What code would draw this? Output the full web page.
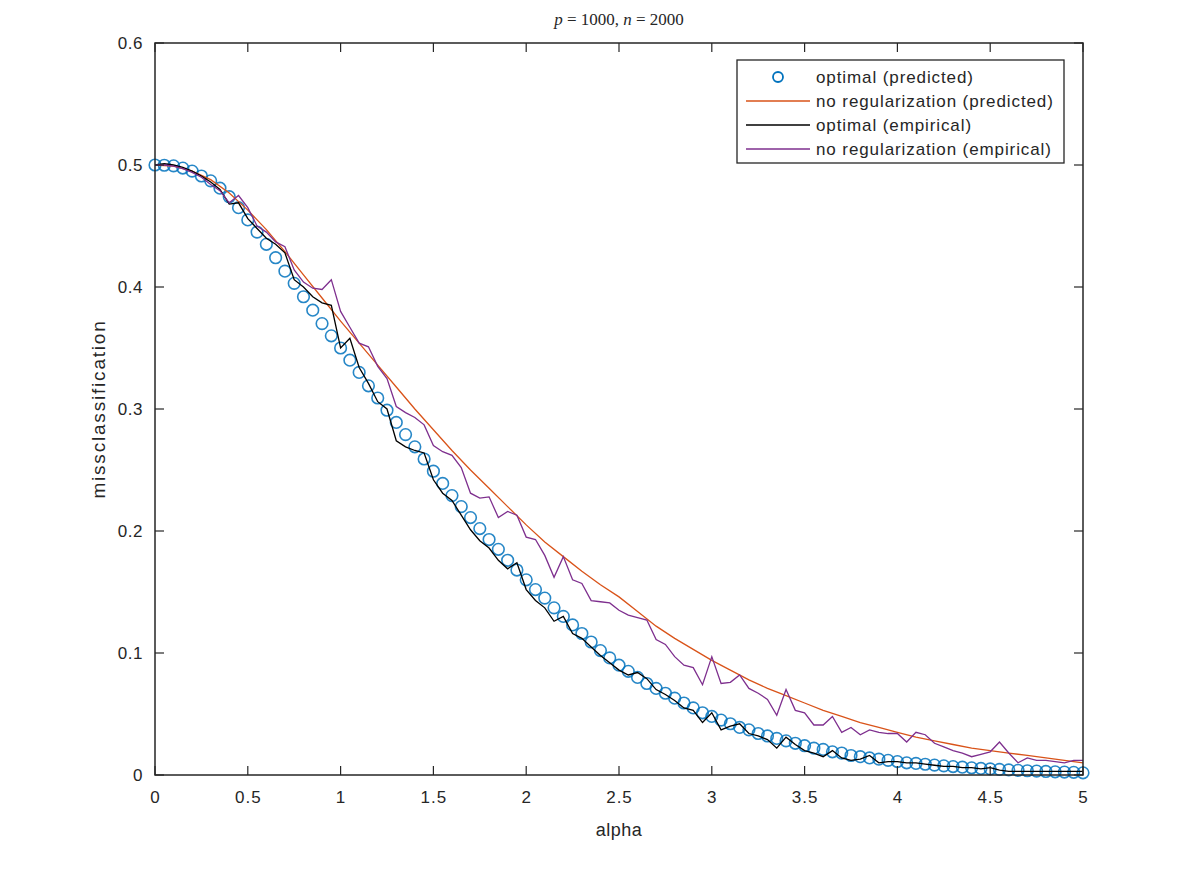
<!DOCTYPE html>
<html>
<head>
<meta charset="utf-8">
<script src="https://cdn.jsdelivr.net/npm/d3@7"></script>
<style>
  body { margin: 0; background: #fff; }
  text { font-family: "Liberation Sans", Arial, sans-serif; fill: #262626; }
</style>
</head>
<body>
<div id="chart"></div>
<script>
// Data (alpha step 0.05 for markers / empirical, 0.1 for predicted line)
const alphaFine = d3.range(0, 101).map((i) => i * 0.05);
const alphaCoarse = d3.range(0, 51).map((i) => i * 0.1);

const optimalPredicted = [
  0.500, 0.4998, 0.4993, 0.4975, 0.495, 0.491, 0.487, 0.481, 0.474, 0.465,
  0.455, 0.445, 0.435, 0.424, 0.413, 0.403, 0.392, 0.381, 0.370, 0.360,
  0.350, 0.340, 0.330, 0.319, 0.309, 0.299, 0.289, 0.279, 0.269, 0.259,
  0.249, 0.239, 0.229, 0.220, 0.211, 0.202, 0.193, 0.185, 0.176, 0.168,
  0.160, 0.152, 0.145, 0.137, 0.130, 0.123, 0.116, 0.109, 0.102, 0.096,
  0.090, 0.085, 0.080, 0.075, 0.071, 0.067, 0.063, 0.059, 0.055, 0.051,
  0.048, 0.045, 0.042, 0.039, 0.037, 0.034, 0.032, 0.030, 0.028, 0.026,
  0.024, 0.022, 0.021, 0.019, 0.018, 0.016, 0.015, 0.014, 0.013, 0.012,
  0.011, 0.010, 0.0095, 0.0088, 0.0081, 0.0075, 0.0069, 0.0064, 0.0059, 0.0054,
  0.0050, 0.0046, 0.0042, 0.0038, 0.0035, 0.0032, 0.0029, 0.0026, 0.0024, 0.0022,
  0.0018,
];

const noRegPredicted = [
  0.500, 0.499, 0.495, 0.488, 0.477, 0.463, 0.447, 0.429, 0.410, 0.391,
  0.372, 0.354, 0.336, 0.318, 0.300, 0.283, 0.266, 0.250, 0.235, 0.220,
  0.205, 0.191, 0.179, 0.167, 0.156, 0.146, 0.134, 0.122, 0.112, 0.103,
  0.094, 0.086, 0.078, 0.071, 0.065, 0.059, 0.053, 0.048, 0.043, 0.039,
  0.035, 0.031, 0.028, 0.025, 0.022, 0.020, 0.018, 0.016, 0.014, 0.012,
  0.010,
];

const optimalEmpirical = [
  0.500, 0.501, 0.500, 0.498, 0.495, 0.491, 0.486, 0.480, 0.468, 0.469,
  0.456, 0.448, 0.440, 0.435, 0.428, 0.406, 0.400, 0.392, 0.387, 0.385,
  0.350, 0.358, 0.334, 0.321, 0.306, 0.300, 0.274, 0.269, 0.266, 0.264,
  0.242, 0.231, 0.225, 0.213, 0.201, 0.192, 0.186, 0.176, 0.169, 0.174,
  0.152, 0.143, 0.137, 0.126, 0.130, 0.116, 0.112, 0.105, 0.098, 0.092,
  0.086, 0.082, 0.084, 0.079, 0.070, 0.066, 0.061, 0.055, 0.053, 0.043,
  0.051, 0.037, 0.040, 0.042, 0.034, 0.032, 0.029, 0.022, 0.031, 0.025,
  0.020, 0.018, 0.015, 0.020, 0.014, 0.012, 0.013, 0.016, 0.010, 0.011,
  0.011, 0.010, 0.010, 0.009, 0.008, 0.007, 0.007, 0.006, 0.006, 0.005,
  0.006, 0.004, 0.003, 0.003, 0.003, 0.003, 0.003, 0.003, 0.003, 0.003,
  0.003,
];

const noRegEmpirical = [
  0.500, 0.500, 0.499, 0.497, 0.494, 0.490, 0.484, 0.479, 0.469, 0.475,
  0.465, 0.450, 0.445, 0.437, 0.433, 0.414, 0.404, 0.399, 0.398, 0.406,
  0.380, 0.367, 0.354, 0.351, 0.335, 0.325, 0.302, 0.297, 0.293, 0.287,
  0.270, 0.265, 0.262, 0.252, 0.231, 0.227, 0.228, 0.211, 0.216, 0.213,
  0.195, 0.193, 0.180, 0.162, 0.179, 0.160, 0.157, 0.143, 0.142, 0.141,
  0.135, 0.131, 0.129, 0.127, 0.111, 0.107, 0.097, 0.090, 0.088, 0.074,
  0.097, 0.075, 0.076, 0.082, 0.071, 0.067, 0.062, 0.049, 0.070, 0.053,
  0.051, 0.041, 0.041, 0.048, 0.035, 0.039, 0.033, 0.037, 0.035, 0.034,
  0.034, 0.027, 0.035, 0.033, 0.026, 0.023, 0.020, 0.018, 0.015, 0.017,
  0.019, 0.027, 0.018, 0.010, 0.014, 0.012, 0.012, 0.011, 0.010, 0.012,
  0.012,
];

const xTicks = [0, 0.5, 1, 1.5, 2, 2.5, 3, 3.5, 4, 4.5, 5];
const yTicks = [0, 0.1, 0.2, 0.3, 0.4, 0.5, 0.6];
const legendLabels = [
  "optimal (predicted)",
  "no regularization (predicted)",
  "optimal (empirical)",
  "no regularization (empirical)",
];

// Dimensions
const dimensions = {
  width: 1196,
  height: 874,
  left: 155,
  right: 1083,
  top: 43,
  bottom: 775,
};

const colors = {
  blue: "#0072BD",
  orange: "#D95319",
  black: "#000000",
  purple: "#7E2F8E",
  axis: "#262626",
};

const svg = d3
  .select("#chart")
  .append("svg")
  .attr("width", dimensions.width)
  .attr("height", dimensions.height);

// Scales
const xScale = d3
  .scaleLinear()
  .domain([0, 5])
  .range([dimensions.left, dimensions.right]);

const yScale = d3
  .scaleLinear()
  .domain([0, 0.6])
  .range([dimensions.bottom, dimensions.top]);

const plot = svg.append("g");

const line = (xs, ys) =>
  d3
    .line()
    .x((d, i) => xScale(xs[i]))
    .y((d) => yScale(d))(ys);

// Circles: optimal (predicted)
plot
  .append("g")
  .selectAll("circle")
  .data(optimalPredicted)
  .join("circle")
  .attr("cx", (d, i) => xScale(alphaFine[i]))
  .attr("cy", (d) => yScale(d))
  .attr("r", 5.8)
  .attr("fill", "none")
  .attr("stroke", colors.blue)
  .attr("stroke-opacity", 0.85)
  .attr("stroke-width", 1.6);

// Lines
plot
  .append("path")
  .attr("d", line(alphaCoarse, noRegPredicted))
  .attr("fill", "none")
  .attr("stroke", colors.orange)
  .attr("stroke-width", 1.3);

plot
  .append("path")
  .attr("d", line(alphaFine, optimalEmpirical))
  .attr("fill", "none")
  .attr("stroke", colors.black)
  .attr("stroke-width", 1.3);

plot
  .append("path")
  .attr("d", line(alphaFine, noRegEmpirical))
  .attr("fill", "none")
  .attr("stroke", colors.purple)
  .attr("stroke-width", 1.3);

// Axes (ticks inside, mirrored on top and right)
const tickLen = 9;
const xAxisBottom = d3
  .axisBottom(xScale)
  .tickValues(xTicks)
  .tickFormat(d3.format(""))
  .tickSize(0)
  .tickPadding(16);
const yAxisLeft = d3
  .axisLeft(yScale)
  .tickValues(yTicks)
  .tickFormat(d3.format(""))
  .tickSize(0)
  .tickPadding(12);

const axes = svg.append("g");

axes
  .append("g")
  .attr("transform", `translate(0, ${dimensions.bottom})`)
  .call(xAxisBottom)
  .call((g) => g.select(".domain").remove())
  .selectAll("text")
  .attr("font-size", 17)
  .attr("letter-spacing", 1)
  .attr("fill", colors.axis);

axes
  .append("g")
  .attr("transform", `translate(${dimensions.left}, 0)`)
  .call(yAxisLeft)
  .call((g) => g.select(".domain").remove())
  .selectAll("text")
  .attr("font-size", 17)
  .attr("letter-spacing", 0.5)
  .attr("fill", colors.axis);

const tickGroup = axes.append("g").attr("stroke", colors.axis).attr("stroke-width", 1.2);

xTicks.forEach((t) => {
  tickGroup.append("line")
    .attr("x1", xScale(t)).attr("x2", xScale(t))
    .attr("y1", dimensions.bottom).attr("y2", dimensions.bottom - tickLen);
  tickGroup.append("line")
    .attr("x1", xScale(t)).attr("x2", xScale(t))
    .attr("y1", dimensions.top).attr("y2", dimensions.top + tickLen);
});

yTicks.forEach((t) => {
  tickGroup.append("line")
    .attr("x1", dimensions.left).attr("x2", dimensions.left + tickLen)
    .attr("y1", yScale(t)).attr("y2", yScale(t));
  tickGroup.append("line")
    .attr("x1", dimensions.right).attr("x2", dimensions.right - tickLen)
    .attr("y1", yScale(t)).attr("y2", yScale(t));
});

axes
  .append("rect")
  .attr("x", dimensions.left)
  .attr("y", dimensions.top)
  .attr("width", dimensions.right - dimensions.left)
  .attr("height", dimensions.bottom - dimensions.top)
  .attr("fill", "none")
  .attr("stroke", colors.axis)
  .attr("stroke-width", 1.5);

// Labels
svg
  .append("text")
  .attr("x", (dimensions.left + dimensions.right) / 2)
  .attr("y", 836)
  .attr("text-anchor", "middle")
  .attr("font-size", 18)
  .attr("letter-spacing", 0.5)
  .text("alpha");

svg
  .append("text")
  .attr("transform", `translate(105, ${(dimensions.top + dimensions.bottom) / 2}) rotate(-90)`)
  .attr("text-anchor", "middle")
  .attr("font-size", 19)
  .attr("letter-spacing", 1.8)
  .text("missclassification");

const title = svg
  .append("text")
  .attr("x", (dimensions.left + dimensions.right) / 2)
  .attr("y", 25)
  .attr("text-anchor", "middle")
  .attr("font-size", 17)
  .style("font-family", "'Liberation Serif', 'DejaVu Serif', serif");

title.append("tspan").attr("font-style", "italic").text("p");
title.append("tspan").text(" = 1000, ");
title.append("tspan").attr("font-style", "italic").text("n");
title.append("tspan").text(" = 2000");

// Legend
const legend = svg.append("g").attr("transform", "translate(737, 60)");

legend
  .append("rect")
  .attr("width", 327)
  .attr("height", 103)
  .attr("fill", "#fff")
  .attr("stroke", colors.axis)
  .attr("stroke-width", 1.3);

const legendItems = [
  { type: "circle", color: colors.blue },
  { type: "line", color: colors.orange },
  { type: "line", color: colors.black },
  { type: "line", color: colors.purple },
];

legendItems.forEach((item, i) => {
  const y = 17 + i * 24;
  if (item.type === "circle") {
    legend
      .append("circle")
      .attr("cx", 41)
      .attr("cy", y)
      .attr("r", 5)
      .attr("fill", "none")
      .attr("stroke", item.color)
      .attr("stroke-width", 1.8);
  } else {
    legend
      .append("line")
      .attr("x1", 9)
      .attr("x2", 73)
      .attr("y1", y)
      .attr("y2", y)
      .attr("stroke", item.color)
      .attr("stroke-width", 1.3);
  }
  legend
    .append("text")
    .attr("x", 79)
    .attr("y", y + 6)
    .attr("font-size", 17)
    .attr("letter-spacing", 0.9)
    .text(legendLabels[i]);
});
</script>
</body>
</html>
